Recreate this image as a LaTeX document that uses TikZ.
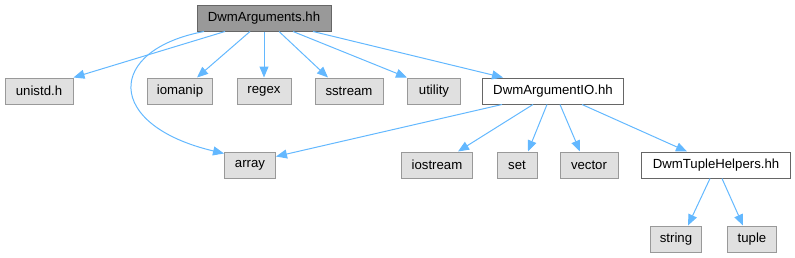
\documentclass[tikz,border=0pt]{standalone}
\usepackage{fontspec}
\setmainfont{Liberation Sans}
\usetikzlibrary{arrows.meta}
\definecolor{edgecol}{HTML}{63B8FF}
\definecolor{sysfill}{HTML}{E0E0E0}
\definecolor{sysdraw}{HTML}{999999}
\definecolor{mainfill}{HTML}{999999}
\definecolor{maindraw}{HTML}{666666}
\tikzset{
  box/.style={rectangle, inner sep=0pt, minimum height=26pt, line width=1pt,
    font=\fontsize{13.2}{15}\selectfont, text=black},
  sysbox/.style={box, fill=sysfill, draw=sysdraw},
  mainbox/.style={box, fill=mainfill, draw=maindraw},
  filebox/.style={box, fill=white, draw=maindraw},
  dep/.style={draw=edgecol, line width=1pt, -{Triangle[length=11pt,width=9pt]}}
}
\begin{document}
\begin{tikzpicture}[x=1pt,y=-1pt]
\useasboundingbox (0,0) rectangle (795,257);
\node[mainbox, minimum width=134pt] (main) at (264,18) {DwmArguments.hh};
\node[sysbox, minimum width=68pt] (unistd) at (39,91) {unistd.h};
\node[sysbox, minimum width=65pt] (iomanip) at (180,91) {iomanip};
\node[sysbox, minimum width=54pt] (regex) at (264,91) {regex};
\node[sysbox, minimum width=68pt] (sstream) at (349,91) {sstream};
\node[sysbox, minimum width=53pt] (utility) at (434,91) {utility};
\node[filebox, minimum width=141pt] (io) at (553,91) {DwmArgumentIO.hh};
\node[sysbox, minimum width=51pt] (array) at (250,165) {array};
\node[sysbox, minimum width=71pt] (iostream) at (437,165) {iostream};
\node[sysbox, minimum width=40pt] (set) at (517,165) {set};
\node[sysbox, minimum width=58pt] (vector) at (589,165) {vector};
\node[filebox, minimum width=149pt] (tuph) at (716,165) {DwmTupleHelpers.hh};
\node[sysbox, minimum width=51pt] (string) at (676,239) {string};
\node[sysbox, minimum width=49pt] (tuple) at (752,239) {tuple};

\draw[dep] ([xshift=-39pt]main.south) -- (unistd.north east);
\draw[dep] ([xshift=-60pt]main.south) .. controls (106,50) and (104,125) .. ([yshift=-2pt]array.north west);
\draw[dep] ([xshift=-14pt]main.south) -- ([xshift=17pt]iomanip.north);
\draw[dep] (main.south) -- (regex.north);
\draw[dep] ([xshift=15pt]main.south) -- ([xshift=-21pt]sstream.north);
\draw[dep] ([xshift=29pt]main.south) -- (utility.north west);
\draw[dep] ([xshift=49pt]main.south) -- ([xshift=-50pt]io.north);

\draw[dep] ([xshift=-51pt]io.south) -- ([yshift=-5pt]array.north east);
\draw[dep] ([xshift=-20pt]io.south) -- ([xshift=21pt]iostream.north);
\draw[dep] ([xshift=-6pt]io.south) -- ([xshift=11pt]set.north);
\draw[dep] ([xshift=7pt]io.south) -- ([xshift=-9pt]vector.north);
\draw[dep] ([xshift=29pt]io.south) -- ([xshift=-29pt]tuph.north);

\draw[dep] ([xshift=-6pt]tuph.south) -- ([xshift=12pt]string.north);
\draw[dep] ([xshift=6pt]tuph.south) -- ([xshift=-9pt]tuple.north);
\end{tikzpicture}
\end{document}
